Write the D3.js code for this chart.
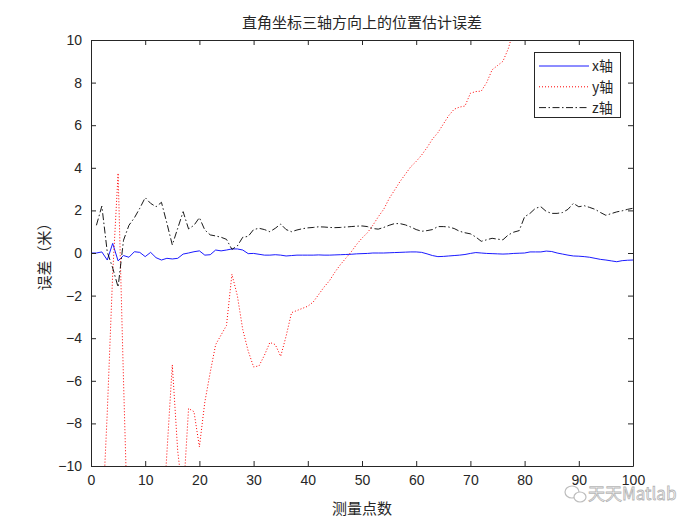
<!DOCTYPE html>
<html><head><meta charset="utf-8">
<script src="https://cdn.jsdelivr.net/npm/d3@7/dist/d3.min.js"></script>
<style>
body{margin:0;background:#fff;}
text{font-family:"Liberation Sans","Noto Sans CJK SC",Arial,sans-serif;}
.cjk{font-family:"Noto Sans CJK SC","Liberation Sans",sans-serif;}
</style></head><body>
<script>
const title = "直角坐标三轴方向上的位置估计误差";
const xLabel = "测量点数";
const yLabel = "误差（米）";
const seriesNames = ["x轴", "y轴", "z轴"];
const xTicks = [0,10,20,30,40,50,60,70,80,90,100];
const yTicks = [-10,-8,-6,-4,-2,0,2,4,6,8,10];

// x-axis error, points 0..100
const xErr = [0,0.0,0.05,-0.33,0.45,-0.37,-0.12,-0.2,0.06,0.03,-0.17,0.03,-0.22,-0.33,-0.25,-0.28,-0.25,-0.05,0.0,0.06,
 0.1,-0.1,-0.08,0.14,0.1,0.14,0.19,0.19,0.14,-0.03,-0.02,-0.06,-0.1,-0.1,-0.08,-0.1,-0.14,-0.12,-0.1,-0.1,
 -0.1,-0.1,-0.09,-0.1,-0.1,-0.09,-0.08,-0.07,-0.06,-0.04,-0.03,-0.02,0.0,0.0,0.0,0.01,0.02,0.03,0.04,0.05,
 0.05,0.03,-0.04,-0.12,-0.17,-0.16,-0.14,-0.12,-0.1,-0.07,-0.02,0.02,0.0,-0.02,-0.03,-0.04,-0.05,-0.04,-0.02,-0.01,
 0.0,0.05,0.05,0.05,0.09,0.07,0.0,-0.05,-0.1,-0.14,-0.15,-0.17,-0.2,-0.25,-0.3,-0.33,-0.37,-0.41,-0.36,-0.34,-0.33];
// y-axis error, points 1..100
const yErr = [-18,-13,-7.5,-1.0,3.75,-6.0,-15,-18,-20,-19,-17,-16,-13.5,-9.4,-5.25,-9.3,-11.5,-7.3,-7.45,-9.1,
 -7.0,-5.6,-4.3,-3.85,-3.4,-1.0,-2.0,-3.6,-4.6,-5.35,-5.3,-4.8,-4.2,-4.3,-4.85,-3.9,-2.8,-2.7,-2.6,-2.5,
 -2.3,-1.95,-1.6,-1.3,-0.9,-0.55,-0.25,0.05,0.4,0.7,0.95,1.3,1.7,2.05,2.55,2.95,3.35,3.7,4.05,4.3,
 4.6,4.95,5.35,5.65,6.05,6.45,6.75,6.85,6.9,7.5,7.58,7.6,8.0,8.6,8.8,9.0,9.6,10.5,11.0,11.4,
 11.8,12.1,12.5,12.9,13.2,13.5,13.9,14.2,14.6,14.9,15.2,15.5,15.9,16.2,16.5,16.8,17.1,17.4,17.7,18.0];
// z-axis error, points 1..100
const zErr = [1.3,2.2,0.05,-0.7,-1.6,0.6,1.3,1.65,2.1,2.6,2.33,2.17,2.38,1.4,0.38,1.16,1.94,1.13,1.3,1.66,
 1.08,0.85,0.8,0.74,0.64,0.17,0.33,0.74,0.78,1.1,1.16,1.1,1.0,1.16,1.36,1.1,1.0,1.08,1.14,1.18,
 1.2,1.23,1.22,1.2,1.19,1.2,1.22,1.24,1.26,1.27,1.24,1.15,1.12,1.2,1.3,1.38,1.38,1.32,1.22,1.1,
 1.02,1.05,1.1,1.24,1.24,1.22,1.15,1.02,0.95,0.9,0.75,0.55,0.62,0.69,0.65,0.62,0.85,0.98,1.05,1.7,
 1.86,2.1,2.17,1.95,1.86,1.86,1.9,2.05,2.33,2.17,2.22,2.14,2.05,1.9,1.77,1.85,1.93,1.98,2.05,2.1];

const W=700,H=525, L=91, R=633, T=40, B=466;
const svg=d3.select("body").append("svg").attr("width",W).attr("height",H);
const x=d3.scaleLinear().domain([0,100]).range([L,R]);
const y=d3.scaleLinear().domain([-10,10]).range([B,T]);

svg.append("defs").append("clipPath").attr("id","clip")
  .append("rect").attr("x",L).attr("y",T).attr("width",R-L).attr("height",B-T);

svg.append("rect").attr("x",L).attr("y",T).attr("width",R-L).attr("height",B-T).attr("fill","#fff");

const line=d3.line().x(d=>x(d[0])).y(d=>y(d[1]));
const g=svg.append("g").attr("clip-path","url(#clip)");
const xs = xErr.map((v,i)=>[i,v]);
const ys = yErr.map((v,i)=>[i+1,v]);
const zs = zErr.map((v,i)=>[i+1,v]);
const styles=[
  {c:"#0000ff",dash:null,w:0.9},
  {c:"#ff0000",dash:"1,2",w:1},
  {c:"#000000",dash:"7,2.5,1.5,2.5",w:0.9}];
[xs,ys,zs].forEach((d,k)=>{
  g.append("path").datum(d).attr("d",line).attr("fill","none")
   .attr("stroke",styles[k].c).attr("stroke-width",styles[k].w)
   .attr("stroke-dasharray",styles[k].dash);
});

// axes (ticks inward, box)
const ax=svg.append("g");
ax.append("g").attr("transform",`translate(0,${B})`)
  .call(d3.axisBottom(x).tickValues(xTicks).tickSizeInner(-5).tickSizeOuter(0).tickPadding(9));
ax.append("g").attr("transform",`translate(0,${T})`)
  .call(d3.axisTop(x).tickValues(xTicks).tickSizeInner(-5).tickSizeOuter(0).tickFormat(""));
ax.append("g").attr("transform",`translate(${L},0)`)
  .call(d3.axisLeft(y).tickValues(yTicks).tickSizeInner(-5).tickSizeOuter(0).tickPadding(9));
ax.append("g").attr("transform",`translate(${R},0)`)
  .call(d3.axisRight(y).tickValues(yTicks).tickSizeInner(-5).tickSizeOuter(0).tickFormat(""));
ax.selectAll(".domain").attr("stroke","#262626").attr("stroke-width",1);
ax.selectAll(".tick line").attr("stroke","#262626");
ax.selectAll(".tick text").attr("font-size",14).attr("fill","#262626")
  .attr("font-family","Liberation Sans, Arial, sans-serif");

svg.append("text").attr("class","cjk").attr("x",(L+R)/2).attr("y",28).attr("text-anchor","middle")
  .attr("font-size",15).attr("fill","#262626").text(title);
svg.append("text").attr("class","cjk").attr("x",(L+R)/2).attr("y",514).attr("text-anchor","middle")
  .attr("font-size",15).attr("fill","#262626").text(xLabel);
svg.append("text").attr("class","cjk").attr("transform",`translate(50,${(T+B)/2}) rotate(-90)`)
  .attr("text-anchor","middle").attr("font-size",15).attr("fill","#262626").text(yLabel);

// legend
const lg=svg.append("g");
lg.append("rect").attr("x",534.5).attr("y",52.5).attr("width",86).attr("height",65)
  .attr("fill","#fff").attr("stroke","#262626").attr("stroke-width",1);
seriesNames.forEach((n,k)=>{
  const yy=66+k*20.8;
  lg.append("line").attr("x1",539).attr("x2",589).attr("y1",yy).attr("y2",yy)
    .attr("stroke",styles[k].c).attr("stroke-width",styles[k].w).attr("stroke-dasharray",styles[k].dash);
  lg.append("text").attr("class","cjk").attr("x",592).attr("y",yy+5).attr("font-size",14)
    .attr("fill","#262626").text(n);
});

// watermark
const wm=svg.append("g").attr("opacity",0.55);
wm.append("ellipse").attr("cx",572).attr("cy",492).attr("rx",7).attr("ry",6).attr("fill","none").attr("stroke","#888").attr("stroke-width",1.2);
wm.append("ellipse").attr("cx",580).attr("cy",497).attr("rx",6).attr("ry",5).attr("fill","#fff").attr("stroke","#888").attr("stroke-width",1.2);
wm.append("text").attr("class","cjk").attr("x",588).attr("y",500).attr("font-size",17)
  .attr("fill","#fff").attr("stroke","#777").attr("stroke-width",0.8).text("天天Matlab");
</script>
</body></html>
